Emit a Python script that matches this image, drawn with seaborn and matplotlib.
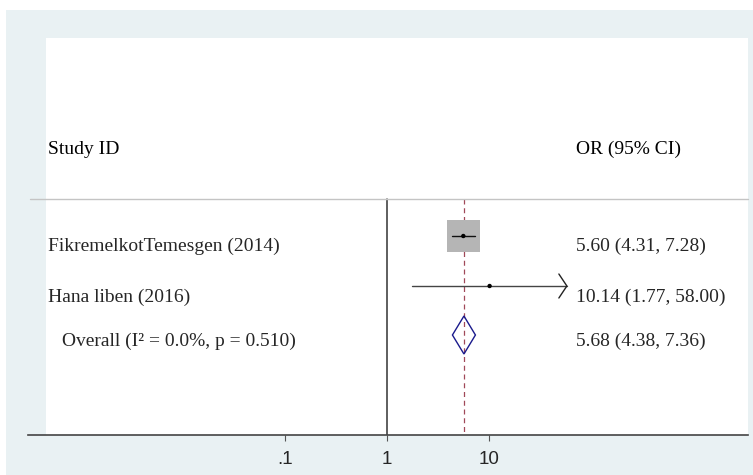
import numpy as np
import pandas as pd
import matplotlib
matplotlib.use("Agg")
import matplotlib.pyplot as plt
from matplotlib.patches import Rectangle, Polygon
import seaborn as sns

# ---- data ----
studies = ["FikremelkotTemesgen (2014)", "Hana liben (2016)"]
or_est = [5.60, 10.14]
ci_low = [4.31, 1.77]
ci_high = [7.28, 58.00]
stat_labels = ["5.60 (4.31, 7.28)", "10.14 (1.77, 58.00)"]
overall_label = "Overall (I² = 0.0%, p = 0.510)"
overall_est = 5.68
overall_low = 4.38
overall_high = 7.36
overall_stat = "5.68 (4.38, 7.36)"
tick_vals = [0.1, 1, 10]
tick_labels = [".1", "1", "10"]

sns.set_theme(style="white")
plt.rcParams["font.family"] = ["Liberation Serif", "DejaVu Serif"]

W, H = 753, 475
fig = plt.figure(figsize=(W / 100, H / 100), dpi=100)
fig.patch.set_facecolor("white")

def fx(px):
    return px / W

def fy(py):
    return 1 - py / H

# background panels
fig.patches.append(Rectangle((fx(6), 0), 1 - fx(6), fy(10), transform=fig.transFigure,
                             facecolor="#E9F1F3", edgecolor="none", zorder=-2))
fig.patches.append(Rectangle((fx(46), fy(435)), fx(748) - fx(46), fy(38) - fy(435),
                             transform=fig.transFigure, facecolor="white",
                             edgecolor="none", zorder=-1))

# axes: x from 28 to 748 px, y from 38 to 435 px
ax = fig.add_axes([fx(28), fy(435), fx(748) - fx(28), fy(38) - fy(435)])
ax.set_zorder(3)
ax.patch.set_alpha(0)
ax.set_xscale("log")
x_one = 387.0
dec = 102.0
ax.set_xlim(10 ** ((28 - x_one) / dec), 10 ** ((748 - x_one) / dec))
ax.set_ylim(3.98, -3.96)

rows = np.arange(len(studies))
y_over = len(studies) - 0.02
y_rule = -0.74

# separators and reference lines
fig.add_artist(plt.Line2D([fx(30), fx(748)], [fy(199), fy(199)], transform=fig.transFigure,
                          color="#C4C4C4", lw=1.0, zorder=4))
ax.plot([1, 1], [y_rule, 3.98], color="#333333", lw=1.1, zorder=2)
ax.plot([overall_est, overall_est], [y_rule, 3.98], color="#A04858", lw=0.9,
        ls=(0, (4, 3)), zorder=2)

# study box (weight of first study)
box_half = 0.16
lo, hi = or_est[0] / 10 ** box_half, or_est[0] * 10 ** box_half
hh = box_half * dec / 50
ax.add_patch(Rectangle((lo, 0 - hh), hi - lo, 2 * hh, facecolor="#B5B5B5",
                       edgecolor="none", zorder=3))

# CIs
for i in rows:
    col = "#111111" if i == 0 else "#444444"
    ax.plot([ci_low[i], ci_high[i]], [i, i], color=col, lw=1.0, zorder=4)
# arrow on 2nd study
i = 1
tip = ci_high[i]
back = tip / 10 ** (8 / dec)
ax.plot([back, tip, back], [i - 0.24, i, i + 0.24], color="#222222", lw=1.0, zorder=4)

df = pd.DataFrame({"OR": or_est, "row": rows})
sns.scatterplot(data=df, x="OR", y="row", ax=ax, color="black", s=10,
                marker="o", edgecolor="none", zorder=5, legend=False)

# overall diamond
ax.add_patch(Polygon([[overall_low, y_over], [overall_est, y_over - 0.38],
                      [overall_high, y_over], [overall_est, y_over + 0.38]],
                     closed=True, facecolor="none", edgecolor="#1A1A8C", lw=1.0, zorder=5))

# texts
fs = 14
text_y = [246, 297]
fig.text(fx(48), fy(149), "Study ID", fontsize=fs, va="center", ha="left", color="black")
fig.text(fx(576), fy(149), "OR (95% CI)", fontsize=fs, va="center", ha="left", color="black")
for i in rows:
    fig.text(fx(48), fy(text_y[i]), studies[i], fontsize=fs, va="center", ha="left")
    fig.text(fx(576), fy(text_y[i]), stat_labels[i], fontsize=fs, va="center", ha="left")
fig.text(fx(62), fy(341), overall_label, fontsize=fs, va="center", ha="left")
fig.text(fx(576), fy(341), overall_stat, fontsize=fs, va="center", ha="left")

# axis styling
for s in ["top", "left", "right"]:
    ax.spines[s].set_visible(False)
ax.spines["bottom"].set_color("#444444")
ax.spines["bottom"].set_linewidth(1.2)
ax.set_yticks([])
ax.set_xticks(tick_vals)
ax.set_xticklabels(tick_labels, fontfamily="Liberation Sans", fontsize=13.5)
ax.xaxis.set_minor_locator(matplotlib.ticker.NullLocator())
ax.tick_params(axis="x", bottom=True, length=4.5, width=0.8, color="#555555", pad=7)
ax.set_xlabel("")
ax.set_ylabel("")

fig.savefig("out.png", dpi=100)
